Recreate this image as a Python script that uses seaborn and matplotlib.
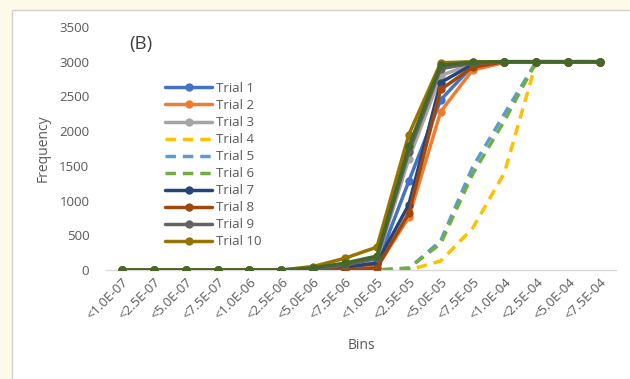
import matplotlib
matplotlib.use("Agg")
import matplotlib.pyplot as plt
import matplotlib.patches as mpatches
import seaborn as sns
import pandas as pd

bins = ["<1.0E-07", "<2.5E-07", "<5.0E-07", "<7.5E-07", "<1.0E-06", "<2.5E-06",
        "<5.0E-06", "<7.5E-06", "<1.0E-05", "<2.5E-05", "<5.0E-05", "<7.5E-05",
        "<1.0E-04", "<2.5E-04", "<5.0E-04", "<7.5E-04"]

trial_1 = [0, 0, 0, 0, 0, 0, 10, 30, 80, 1280, 2450, 2940, 3000, 3000, 3000, 3000]
trial_2 = [0, 0, 0, 0, 0, 0, 5, 20, 40, 760, 2280, 2880, 2990, 3000, 3000, 3000]
trial_3 = [0, 0, 0, 0, 0, 0, 20, 60, 150, 1600, 2800, 2970, 3000, 3000, 3000, 3000]
trial_4 = [0, 0, 0, 0, 0, 0, 0, 0, 0, 0, 130, 600, 1400, 3000, 3000, 3000]
trial_5 = [0, 0, 0, 0, 0, 0, 0, 0, 0, 20, 420, 1480, 2250, 3000, 3000, 3000]
trial_6 = [0, 0, 0, 0, 0, 0, 0, 0, 0, 30, 380, 1380, 2150, 3000, 3000, 3000]
trial_7 = [0, 0, 0, 0, 0, 0, 10, 40, 100, 940, 2700, 2960, 3000, 3000, 3000, 3000]
trial_8 = [0, 0, 0, 0, 0, 0, 5, 0, 30, 820, 2600, 2920, 3000, 3000, 3000, 3000]
trial_9 = [0, 0, 0, 0, 0, 0, 15, 70, 170, 1700, 2900, 2980, 3000, 3000, 3000, 3000]
trial_10 = [0, 0, 0, 0, 0, 0, 50, 170, 330, 1950, 2985, 3000, 3000, 3000, 3000, 3000]
trial_11 = [0, 0, 0, 0, 0, 0, 30, 100, 200, 1780, 2950, 2990, 3000, 3000, 3000, 3000]

series = [
    ("Trial 1", trial_1, "#4472C4", False),
    ("Trial 2", trial_2, "#ED7D31", False),
    ("Trial 3", trial_3, "#A5A5A5", False),
    ("Trial 4", trial_4, "#FFC000", True),
    ("Trial 5", trial_5, "#5B9BD5", True),
    ("Trial 6", trial_6, "#70AD47", True),
    ("Trial 7", trial_7, "#264478", False),
    ("Trial 8", trial_8, "#9E480E", False),
    ("Trial 9", trial_9, "#636363", False),
    ("Trial 10", trial_10, "#997300", False),
    ("_nolegend_", trial_11, "#43682B", False),
]

sns.set_style("white")
plt.rcParams['font.family'] = ['Open Sans', 'DejaVu Sans']

fig = plt.figure(figsize=(6.3, 3.79), dpi=100)
fig.patch.set_facecolor("#FEFAEA")
bg = fig.add_axes([0, 0, 1, 1], zorder=-5)
bg.set_axis_off()
bg.set_xlim(0, 1)
bg.set_ylim(0, 1)
bg.add_patch(mpatches.Rectangle((12 / 630, -0.01), 1.0, 1 - 10 / 379 + 0.01,
                                facecolor="white", edgecolor="#D0D0D0", linewidth=1.0))
ax = fig.add_axes([106 / 630, 1 - 270 / 379, 510 / 630, 243 / 379], zorder=1)
ax.set_facecolor("none")

for i, (name, vals, color, dashed) in enumerate(series):
    df = pd.DataFrame({"Bins": bins, "Frequency": vals})
    if dashed:
        sns.lineplot(data=df, x="Bins", y="Frequency", ax=ax, color=color, sort=False,
                     linewidth=2.5, linestyle=(0, (3, 2)), label=name, zorder=2 + i)
    else:
        sns.lineplot(data=df, x="Bins", y="Frequency", ax=ax, color=color, sort=False,
                     linewidth=2.5, marker="o", markersize=6, markeredgewidth=0,
                     label=name, zorder=2 + i)

ax.set_ylim(0, 3500)
ax.set_xlim(-0.5, len(bins) - 0.5)
ax.set_yticks(range(0, 3501, 500))
for s in ["top", "right", "left"]:
    ax.spines[s].set_visible(False)
ax.spines["bottom"].set_color("#D9D9D9")
ax.spines["bottom"].set_linewidth(1.0)
ax.tick_params(axis="both", length=0, colors="#595959", labelsize=9.5)
ax.tick_params(axis="y", pad=12)
ax.tick_params(axis="x", pad=4)
plt.setp(ax.get_xticklabels(), rotation=45, ha="right", rotation_mode="anchor")
ax.set_xlabel("Bins", color="#595959", fontsize=10, labelpad=11)
ax.set_ylabel("Frequency", color="#595959", fontsize=10, labelpad=6)
ax.text(0.045, 0.93, "(B)", transform=ax.transAxes, fontsize=13.5, color="#404040",
        va="center", ha="left")

leg = ax.legend(loc="upper left", bbox_to_anchor=(0.105, 0.795), frameon=False,
                fontsize=9.5, labelspacing=0.305, handlelength=3.6, handletextpad=0.25,
                borderaxespad=0)
for t in leg.get_texts():
    t.set_color("#595959")

fig.savefig("out.png", dpi=100, facecolor=fig.get_facecolor())
